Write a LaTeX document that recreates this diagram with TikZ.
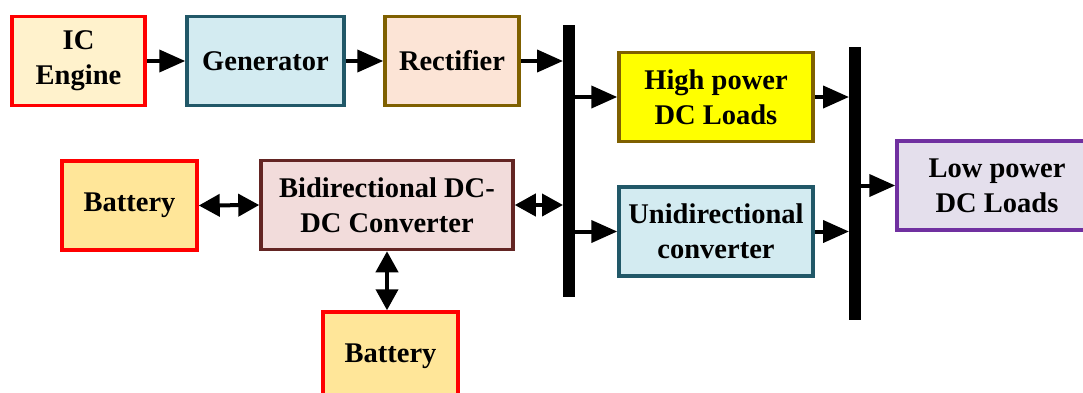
\documentclass[tikz,border=0pt]{standalone}
\usepackage{fontspec}
\setmainfont{Liberation Serif}
\usepackage{tikz}
\usetikzlibrary{arrows.meta,positioning}
\definecolor{cred}{HTML}{FF0000}
\definecolor{cteal}{HTML}{215868}
\definecolor{cbrown}{HTML}{7F6000}
\definecolor{cmaroon}{HTML}{632523}
\definecolor{cpurple}{HTML}{7030A0}
\definecolor{lcream}{HTML}{FFF2CC}
\definecolor{lblue}{HTML}{D3EBF1}
\definecolor{lpeach}{HTML}{FCE4D6}
\definecolor{lgold}{HTML}{FFE699}
\definecolor{lpink}{HTML}{F2DCDB}
\definecolor{llav}{HTML}{E4DFEC}
\definecolor{cyell}{HTML}{FFFF00}
\tikzset{
  >={Triangle[length=26pt,width=22pt]},
  every picture/.style={font=\bfseries\fontsize{28.5}{35}\selectfont},
  bx/.style={draw,line width=3.5pt,align=center,inner sep=2pt,minimum height=89pt},
  bxice/.style={bx,draw=cred,fill=lcream},
  bxgen/.style={bx,draw=cteal,fill=lblue},
  bxrec/.style={bx,draw=cbrown,fill=lpeach},
  bxhp/.style={bx,draw=cbrown,fill=cyell},
  bxlp/.style={bx,draw=cpurple,fill=llav},
  bxbat/.style={bx,draw=cred,fill=lgold},
  bxbi/.style={bx,draw=cmaroon,fill=lpink},
  bus/.style={fill=black,minimum width=12pt,inner sep=0pt,outer sep=0pt},
  arr/.style={->,line width=4pt},
  darr/.style={{Triangle[length=21pt,width=22pt]}-{Triangle[length=21pt,width=22pt]},line width=4pt},
}
\begin{document}
\begin{tikzpicture}[x=1pt,y=-1pt]
  \useasboundingbox (0,0) rectangle (1083,392);
  \clip (0,0) rectangle (1083,392);
  \node[bxice,minimum width=133pt] (ice) at (78.5,61) {IC\\Engine};
  \node[bxgen,minimum width=157pt] (gen) at (265.5,61) {Generator};
  \node[bxrec,minimum width=134pt] (rec) at (452,61) {Rectifier};
  \node[bus,minimum height=272pt] (bus1) at (569,161) {};
  \node[bxhp,minimum width=194pt] (hp) at (716,97) {High power\\DC Loads};
  \node[bxgen,minimum width=194pt] (uni) at (716,231.5) {Unidirectional\\converter};
  \node[bus,minimum height=273pt] (bus2) at (855,183.5) {};
  \node[bxlp,minimum width=200pt] (lp) at (997,185.5) {Low power\\DC Loads};
  \node[bxbat,minimum width=135pt] (bat1) at (129.5,205.5) {Battery};
  \node[bxbi,minimum width=252pt] (bi) at (387,205) {Bidirectional DC-\\DC Converter};
  \node[bxbat,minimum width=135pt] (bat2) at (390.5,356.5) {Battery};
  \draw[arr] (ice.east) -- (gen.west);
  \draw[arr] (gen.east) -- (rec.west);
  \draw[arr] (rec.east) -- (rec.east -| bus1.west);
  \draw[arr] (hp.west -| bus1.east) -- (hp.west);
  \draw[arr] (uni.west -| bus1.east) -- (uni.west);
  \draw[arr] (hp.east) -- (hp.east -| bus2.west);
  \draw[arr] (uni.east) -- (uni.east -| bus2.west);
  \draw[arr] (lp.west -| bus2.east) -- (lp.west);
  \draw[darr] (bat1.east) -- (bi.west);
  \draw[darr] (bi.east) -- (bi.east -| bus1.west);
  \draw[darr] (bi.south) -- (bi.south |- bat2.north);
\end{tikzpicture}
\end{document}
